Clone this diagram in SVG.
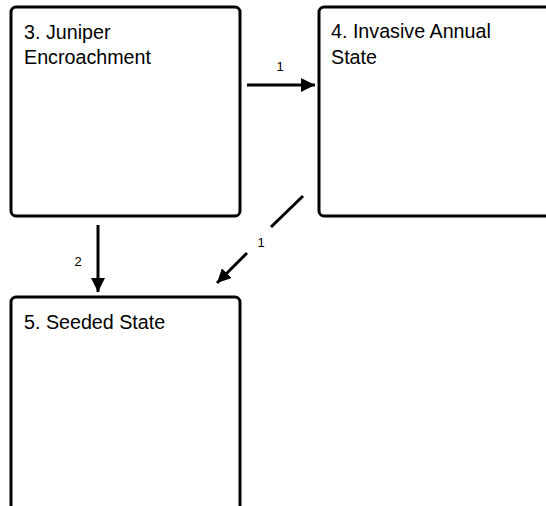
<svg xmlns="http://www.w3.org/2000/svg" width="546" height="506" viewBox="0 0 546 506">
<style>
.box{fill:#fff;stroke:#000;stroke-width:3}
.t{font-family:"Liberation Sans",Arial,sans-serif;font-size:19.7px;fill:#000}
.l{font-family:"Liberation Sans",Arial,sans-serif;font-size:13px;fill:#000;text-anchor:middle}
.c{stroke:#000;stroke-width:3;fill:none}
</style>
<defs>
<marker id="ah" markerUnits="userSpaceOnUse" markerWidth="14" markerHeight="14" refX="12" refY="6" orient="auto" viewBox="0 0 12 12">
<path d="M0,0 L12,6 L0,12 z" fill="#000"/>
</marker>
</defs>
<rect width="546" height="506" fill="#fff"/>
<g id="n3">
<rect class="box" x="11" y="7" width="229" height="209" rx="5"/>
<text class="t" x="24" y="39">3. Juniper</text>
<text class="t" x="24" y="64">Encroachment</text>
</g>
<g id="n4">
<rect class="box" x="319" y="7" width="240" height="209" rx="5"/>
<text class="t" x="331" y="38">4. Invasive Annual</text>
<text class="t" x="331" y="64">State</text>
</g>
<g id="n5">
<rect class="box" x="11" y="297" width="229" height="230" rx="5"/>
<text class="t" x="24" y="329">5. Seeded State</text>
</g>
<g id="connectors">
<line class="c" x1="247" y1="85" x2="315" y2="85" marker-end="url(#ah)"/>
<text class="l" x="280" y="71">1</text>
<line class="c" x1="98" y1="225" x2="98" y2="292" marker-end="url(#ah)"/>
<text class="l" x="78" y="266">2</text>
<line class="c" x1="303" y1="196" x2="271" y2="227"/>
<line class="c" x1="247" y1="253" x2="217" y2="283" marker-end="url(#ah)"/>
<text class="l" x="261" y="247">1</text>
</g>
</svg>
